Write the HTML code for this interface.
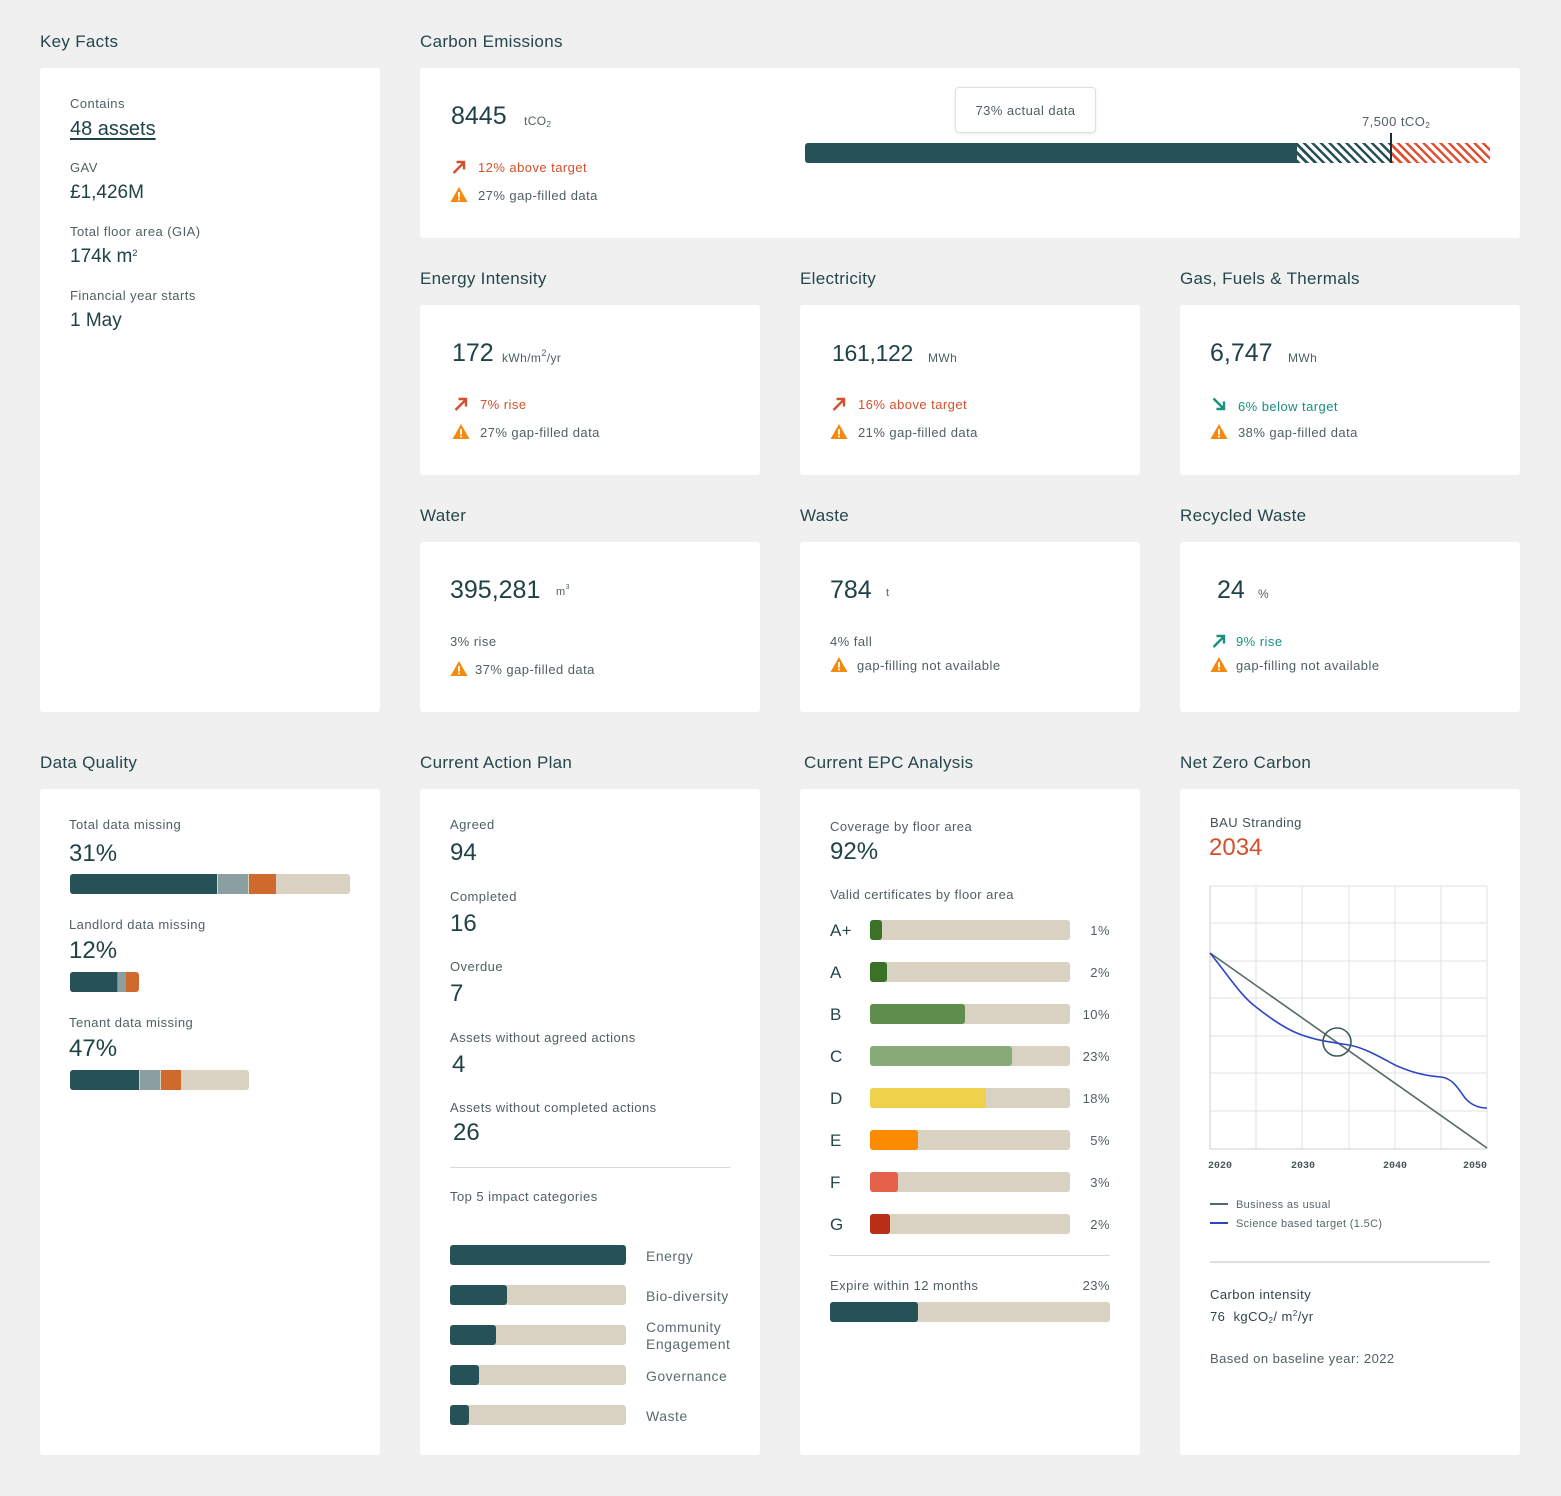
<!DOCTYPE html>
<html>
<head>
<meta charset="utf-8">
<style>
html,body{margin:0;padding:0}
body{width:1561px;height:1496px;background:#f0f0f0;position:relative;overflow:hidden;font-family:"Liberation Sans",Arial,sans-serif;color:#1f4247}
.c{position:absolute;background:#fff;border-radius:3px}
.t{position:absolute;line-height:1;white-space:nowrap;margin-top:1px}
.h{font-size:17px;color:#25474c;letter-spacing:0.3px}
.l{font-size:13px;color:#4f5f62;letter-spacing:0.45px}
.v{font-size:19px;color:#1f4247;margin-top:2px}
.b{font-size:25px;color:#1f4247;margin-top:2px}
.n{font-size:24px;color:#1f4247;margin-top:2px}
.u{font-size:12px;color:#4f5f62;letter-spacing:0.4px}
.cat{font-size:14px;color:#5a6b6e;letter-spacing:0.5px}
.red{color:#d4502c}
.teal{color:#17907f}
.r{position:absolute;border-radius:3px}
.ic{position:absolute}
sub{font-size:8px;vertical-align:-2px}
sup{font-size:9px;vertical-align:6px;line-height:0}
</style>
</head>
<body>

<!-- Titles -->
<div class="t h" style="left:40px;top:32px">Key Facts</div>
<div class="t h" style="left:420px;top:32px">Carbon Emissions</div>
<div class="t h" style="left:420px;top:269px">Energy Intensity</div>
<div class="t h" style="left:800px;top:269px">Electricity</div>
<div class="t h" style="left:1180px;top:269px">Gas, Fuels &amp; Thermals</div>
<div class="t h" style="left:420px;top:506px">Water</div>
<div class="t h" style="left:800px;top:506px">Waste</div>
<div class="t h" style="left:1180px;top:506px">Recycled Waste</div>
<div class="t h" style="left:40px;top:753px">Data Quality</div>
<div class="t h" style="left:420px;top:753px">Current Action Plan</div>
<div class="t h" style="left:804px;top:753px">Current EPC Analysis</div>
<div class="t h" style="left:1180px;top:753px">Net Zero Carbon</div>

<!-- Cards -->
<div class="c" style="left:40px;top:68px;width:340px;height:644px"></div>
<div class="c" style="left:420px;top:68px;width:1100px;height:170px"></div>
<div class="c" style="left:420px;top:305px;width:340px;height:170px"></div>
<div class="c" style="left:800px;top:305px;width:340px;height:170px"></div>
<div class="c" style="left:1180px;top:305px;width:340px;height:170px"></div>
<div class="c" style="left:420px;top:542px;width:340px;height:170px"></div>
<div class="c" style="left:800px;top:542px;width:340px;height:170px"></div>
<div class="c" style="left:1180px;top:542px;width:340px;height:170px"></div>
<div class="c" style="left:40px;top:789px;width:340px;height:666px"></div>
<div class="c" style="left:420px;top:789px;width:340px;height:666px"></div>
<div class="c" style="left:800px;top:789px;width:340px;height:666px"></div>
<div class="c" style="left:1180px;top:789px;width:340px;height:666px"></div>

<!-- Key facts -->
<div class="t l" style="left:70px;top:96px">Contains</div>
<div class="t v" style="left:70px;top:117px;font-size:20px;text-decoration:underline;text-underline-offset:3px">48 assets</div>
<div class="t l" style="left:70px;top:160px">GAV</div>
<div class="t v" style="left:70px;top:181px">£1,426M</div>
<div class="t l" style="left:70px;top:224px">Total floor area (GIA)</div>
<div class="t v" style="left:70px;top:245px">174k m<sup>2</sup></div>
<div class="t l" style="left:70px;top:288px">Financial year starts</div>
<div class="t v" style="left:70px;top:309px">1 May</div>

<!-- Carbon emissions -->
<div class="t b" style="left:451px;top:102px">8445</div>
<div class="t u" style="left:524px;top:114px">tCO<sub>2</sub></div>
<svg class="ic" style="left:451px;top:159px" width="16" height="16" viewBox="0 0 16 16"><path d="M2.5 14 L13 3.5 M5.5 3 H13 V10.5" fill="none" stroke="#d4502c" stroke-width="2.4"/></svg>
<div class="t l red" style="left:478px;top:160px">12% above target</div>
<svg class="ic" style="left:450px;top:186px" width="18" height="17" viewBox="0 0 18 17"><polygon points="9,1 17.5,16 0.5,16" fill="#f28a10"/><rect x="8.1" y="6" width="1.8" height="5.5" fill="#fff"/><rect x="8.1" y="12.6" width="1.8" height="1.8" fill="#fff"/></svg>
<div class="t l" style="left:478px;top:188px">27% gap-filled data</div>

<div style="position:absolute;left:955px;top:87px;width:139px;height:44px;border:1px solid #dde0e0;border-radius:4px;background:#fff;box-shadow:0 1px 3px rgba(0,0,0,0.08)"></div>
<div class="t l" style="left:955px;top:103px;width:141px;text-align:center">73% actual data</div>
<div class="t l" style="left:1362px;top:114px">7,500 tCO<sub>2</sub></div>
<div class="r" style="left:805px;top:143px;width:492px;height:20px;background:#265157;border-radius:3px 0 0 3px"></div>
<div style="position:absolute;left:1297px;top:143px;width:94px;height:20px;background:repeating-linear-gradient(45deg,#265157 0 2.5px,#fff 2.5px 6px)"></div>
<div style="position:absolute;left:1391px;top:143px;width:99px;height:20px;background:repeating-linear-gradient(45deg,#e0522f 0 2.5px,#fff 2.5px 6px)"></div>
<div style="position:absolute;left:1390px;top:133px;width:2px;height:30px;background:#1b2d33"></div>

<!-- Energy intensity -->
<div class="t b" style="left:452px;top:339px">172</div>
<div class="t u" style="left:502px;top:351px">kWh/m<sup>2</sup>/yr</div>
<svg class="ic" style="left:453px;top:396px" width="16" height="16" viewBox="0 0 16 16"><path d="M2.5 14 L13 3.5 M5.5 3 H13 V10.5" fill="none" stroke="#d4502c" stroke-width="2.4"/></svg>
<div class="t l red" style="left:480px;top:397px">7% rise</div>
<svg class="ic" style="left:452px;top:423px" width="18" height="17" viewBox="0 0 18 17"><polygon points="9,1 17.5,16 0.5,16" fill="#f28a10"/><rect x="8.1" y="6" width="1.8" height="5.5" fill="#fff"/><rect x="8.1" y="12.6" width="1.8" height="1.8" fill="#fff"/></svg>
<div class="t l" style="left:480px;top:425px">27% gap-filled data</div>

<!-- Electricity -->
<div class="t b" style="left:832px;top:340px;font-size:23px;letter-spacing:-0.3px">161,122</div>
<div class="t u" style="left:928px;top:351px">MWh</div>
<svg class="ic" style="left:831px;top:396px" width="16" height="16" viewBox="0 0 16 16"><path d="M2.5 14 L13 3.5 M5.5 3 H13 V10.5" fill="none" stroke="#d4502c" stroke-width="2.4"/></svg>
<div class="t l red" style="left:858px;top:397px">16% above target</div>
<svg class="ic" style="left:830px;top:423px" width="18" height="17" viewBox="0 0 18 17"><polygon points="9,1 17.5,16 0.5,16" fill="#f28a10"/><rect x="8.1" y="6" width="1.8" height="5.5" fill="#fff"/><rect x="8.1" y="12.6" width="1.8" height="1.8" fill="#fff"/></svg>
<div class="t l" style="left:858px;top:425px">21% gap-filled data</div>

<!-- Gas -->
<div class="t b" style="left:1210px;top:339px">6,747</div>
<div class="t u" style="left:1288px;top:351px">MWh</div>
<svg class="ic" style="left:1211px;top:396px" width="16" height="16" viewBox="0 0 16 16"><path d="M2.5 2.5 L13 13 M13 5.5 V13 H5.5" fill="none" stroke="#17907f" stroke-width="2.4"/></svg>
<div class="t l teal" style="left:1238px;top:399px">6% below target</div>
<svg class="ic" style="left:1210px;top:423px" width="18" height="17" viewBox="0 0 18 17"><polygon points="9,1 17.5,16 0.5,16" fill="#f28a10"/><rect x="8.1" y="6" width="1.8" height="5.5" fill="#fff"/><rect x="8.1" y="12.6" width="1.8" height="1.8" fill="#fff"/></svg>
<div class="t l" style="left:1238px;top:425px">38% gap-filled data</div>

<!-- Water -->
<div class="t b" style="left:450px;top:576px">395,281</div>
<div class="t u" style="left:556px;top:586px;font-size:11px">m<sup style="font-size:7px">3</sup></div>
<div class="t l" style="left:450px;top:634px">3% rise</div>
<svg class="ic" style="left:450px;top:660px" width="18" height="17" viewBox="0 0 18 17"><polygon points="9,1 17.5,16 0.5,16" fill="#f28a10"/><rect x="8.1" y="6" width="1.8" height="5.5" fill="#fff"/><rect x="8.1" y="12.6" width="1.8" height="1.8" fill="#fff"/></svg>
<div class="t l" style="left:475px;top:662px">37% gap-filled data</div>

<!-- Waste -->
<div class="t b" style="left:830px;top:576px">784</div>
<div class="t u" style="left:886px;top:587px;font-size:11px">t</div>
<div class="t l" style="left:830px;top:634px">4% fall</div>
<svg class="ic" style="left:830px;top:656px" width="18" height="17" viewBox="0 0 18 17"><polygon points="9,1 17.5,16 0.5,16" fill="#f28a10"/><rect x="8.1" y="6" width="1.8" height="5.5" fill="#fff"/><rect x="8.1" y="12.6" width="1.8" height="1.8" fill="#fff"/></svg>
<div class="t l" style="left:857px;top:658px">gap-filling not available</div>

<!-- Recycled -->
<div class="t b" style="left:1217px;top:576px">24</div>
<div class="t u" style="left:1258px;top:587px">%</div>
<svg class="ic" style="left:1211px;top:633px" width="16" height="16" viewBox="0 0 16 16"><path d="M2.5 14 L13 3.5 M5.5 3 H13 V10.5" fill="none" stroke="#17907f" stroke-width="2.4"/></svg>
<div class="t l teal" style="left:1236px;top:634px">9% rise</div>
<svg class="ic" style="left:1210px;top:656px" width="18" height="17" viewBox="0 0 18 17"><polygon points="9,1 17.5,16 0.5,16" fill="#f28a10"/><rect x="8.1" y="6" width="1.8" height="5.5" fill="#fff"/><rect x="8.1" y="12.6" width="1.8" height="1.8" fill="#fff"/></svg>
<div class="t l" style="left:1236px;top:658px">gap-filling not available</div>

<!-- Data Quality -->
<div class="t l" style="left:69px;top:817px">Total data missing</div>
<div class="t n" style="left:69px;top:840px">31%</div>
<div class="r" style="left:70px;top:874px;width:280px;height:20px;background:#d9d2c2"></div>
<div class="r" style="left:70px;top:874px;width:147px;height:20px;background:#265157;border-radius:3px 0 0 3px"></div>
<div style="position:absolute;left:218px;top:874px;width:30px;height:20px;background:#8b9fa1"></div>
<div style="position:absolute;left:249px;top:874px;width:27px;height:20px;background:#d06a2c"></div>

<div class="t l" style="left:69px;top:917px">Landlord data missing</div>
<div class="t n" style="left:69px;top:937px">12%</div>
<div class="r" style="left:70px;top:972px;width:69px;height:20px;background:#d06a2c"></div>
<div class="r" style="left:70px;top:972px;width:47px;height:20px;background:#265157;border-radius:3px 0 0 3px"></div>
<div style="position:absolute;left:118px;top:972px;width:8px;height:20px;background:#8b9fa1"></div>

<div class="t l" style="left:69px;top:1015px">Tenant data missing</div>
<div class="t n" style="left:69px;top:1035px">47%</div>
<div class="r" style="left:70px;top:1070px;width:179px;height:20px;background:#d9d2c2"></div>
<div class="r" style="left:70px;top:1070px;width:69px;height:20px;background:#265157;border-radius:3px 0 0 3px"></div>
<div style="position:absolute;left:140px;top:1070px;width:20px;height:20px;background:#8b9fa1"></div>
<div style="position:absolute;left:161px;top:1070px;width:20px;height:20px;background:#d06a2c"></div>

<!-- Action plan -->
<div class="t l" style="left:450px;top:817px">Agreed</div>
<div class="t n" style="left:450px;top:839px">94</div>
<div class="t l" style="left:450px;top:889px">Completed</div>
<div class="t n" style="left:450px;top:910px">16</div>
<div class="t l" style="left:450px;top:959px">Overdue</div>
<div class="t n" style="left:450px;top:980px">7</div>
<div class="t l" style="left:450px;top:1030px">Assets without agreed actions</div>
<div class="t n" style="left:452px;top:1051px">4</div>
<div class="t l" style="left:450px;top:1100px">Assets without completed actions</div>
<div class="t n" style="left:453px;top:1119px">26</div>
<div style="position:absolute;left:450px;top:1167px;width:280px;height:1px;background:#d5dadb"></div>
<div class="t l" style="left:450px;top:1189px">Top 5 impact categories</div>

<div class="r" style="left:450px;top:1245px;width:176px;height:20px;background:#265157"></div>
<div class="r" style="left:450px;top:1285px;width:176px;height:20px;background:#d9d2c2"></div>
<div class="r" style="left:450px;top:1285px;width:57px;height:20px;background:#265157"></div>
<div class="r" style="left:450px;top:1325px;width:176px;height:20px;background:#d9d2c2"></div>
<div class="r" style="left:450px;top:1325px;width:46px;height:20px;background:#265157"></div>
<div class="r" style="left:450px;top:1365px;width:176px;height:20px;background:#d9d2c2"></div>
<div class="r" style="left:450px;top:1365px;width:29px;height:20px;background:#265157"></div>
<div class="r" style="left:450px;top:1405px;width:176px;height:20px;background:#d9d2c2"></div>
<div class="r" style="left:450px;top:1405px;width:19px;height:20px;background:#265157"></div>
<div class="t cat" style="left:646px;top:1248px">Energy</div>
<div class="t cat" style="left:646px;top:1288px">Bio-diversity</div>
<div class="t cat" style="left:646px;top:1319px">Community</div>
<div class="t cat" style="left:646px;top:1336px">Engagement</div>
<div class="t cat" style="left:646px;top:1368px">Governance</div>
<div class="t cat" style="left:646px;top:1408px">Waste</div>

<!-- EPC -->
<div class="t l" style="left:830px;top:819px">Coverage by floor area</div>
<div class="t n" style="left:830px;top:838px">92%</div>
<div class="t l" style="left:830px;top:887px">Valid certificates by floor area</div>

<div class="t h" style="left:830px;top:921px">A+</div>
<div class="r" style="left:870px;top:920px;width:200px;height:20px;background:#d9d2c2"></div>
<div class="r" style="left:870px;top:920px;width:12px;height:20px;background:#3a7228"></div>
<div class="t l" style="left:1050px;top:923px;width:60px;text-align:right">1%</div>

<div class="t h" style="left:830px;top:963px">A</div>
<div class="r" style="left:870px;top:962px;width:200px;height:20px;background:#d9d2c2"></div>
<div class="r" style="left:870px;top:962px;width:17px;height:20px;background:#3a7228"></div>
<div class="t l" style="left:1050px;top:965px;width:60px;text-align:right">2%</div>

<div class="t h" style="left:830px;top:1005px">B</div>
<div class="r" style="left:870px;top:1004px;width:200px;height:20px;background:#d9d2c2"></div>
<div class="r" style="left:870px;top:1004px;width:95px;height:20px;background:#5e8d4e"></div>
<div class="t l" style="left:1050px;top:1007px;width:60px;text-align:right">10%</div>

<div class="t h" style="left:830px;top:1047px">C</div>
<div class="r" style="left:870px;top:1046px;width:200px;height:20px;background:#d9d2c2"></div>
<div class="r" style="left:870px;top:1046px;width:142px;height:20px;background:#87aa79"></div>
<div class="t l" style="left:1050px;top:1049px;width:60px;text-align:right">23%</div>

<div class="t h" style="left:830px;top:1089px">D</div>
<div class="r" style="left:870px;top:1088px;width:200px;height:20px;background:#d9d2c2"></div>
<div class="r" style="left:870px;top:1088px;width:116px;height:20px;background:#f0d14c"></div>
<div class="t l" style="left:1050px;top:1091px;width:60px;text-align:right">18%</div>

<div class="t h" style="left:830px;top:1131px">E</div>
<div class="r" style="left:870px;top:1130px;width:200px;height:20px;background:#d9d2c2"></div>
<div class="r" style="left:870px;top:1130px;width:48px;height:20px;background:#fd8b00"></div>
<div class="t l" style="left:1050px;top:1133px;width:60px;text-align:right">5%</div>

<div class="t h" style="left:830px;top:1173px">F</div>
<div class="r" style="left:870px;top:1172px;width:200px;height:20px;background:#d9d2c2"></div>
<div class="r" style="left:870px;top:1172px;width:28px;height:20px;background:#e5614a"></div>
<div class="t l" style="left:1050px;top:1175px;width:60px;text-align:right">3%</div>

<div class="t h" style="left:830px;top:1215px">G</div>
<div class="r" style="left:870px;top:1214px;width:200px;height:20px;background:#d9d2c2"></div>
<div class="r" style="left:870px;top:1214px;width:20px;height:20px;background:#b82e17"></div>
<div class="t l" style="left:1050px;top:1217px;width:60px;text-align:right">2%</div>

<div style="position:absolute;left:830px;top:1255px;width:280px;height:1px;background:#d5dadb"></div>
<div class="t l" style="left:830px;top:1278px">Expire within 12 months</div>
<div class="t l" style="left:1050px;top:1278px;width:60px;text-align:right">23%</div>
<div class="r" style="left:830px;top:1302px;width:280px;height:20px;background:#d9d2c2"></div>
<div class="r" style="left:830px;top:1302px;width:88px;height:20px;background:#265157"></div>

<!-- Net zero -->
<div class="t l" style="left:1210px;top:815px;color:#3f5155">BAU Stranding</div>
<div class="t n red" style="left:1209px;top:834px">2034</div>

<svg style="position:absolute;left:0;top:0" width="1561" height="1496" viewBox="0 0 1561 1496">
  <g stroke="#dfe3e3" stroke-width="1" fill="none">
    <line x1="1210" y1="886" x2="1487" y2="886"/>
    <line x1="1210" y1="923" x2="1487" y2="923"/>
    <line x1="1210" y1="961" x2="1487" y2="961"/>
    <line x1="1210" y1="998" x2="1487" y2="998"/>
    <line x1="1210" y1="1036" x2="1487" y2="1036"/>
    <line x1="1210" y1="1073" x2="1487" y2="1073"/>
    <line x1="1210" y1="1111" x2="1487" y2="1111"/>
    <line x1="1256" y1="886" x2="1256" y2="1149"/>
    <line x1="1302" y1="886" x2="1302" y2="1149"/>
    <line x1="1349" y1="886" x2="1349" y2="1149"/>
    <line x1="1395" y1="886" x2="1395" y2="1149"/>
    <line x1="1441" y1="886" x2="1441" y2="1149"/>
    <line x1="1487" y1="886" x2="1487" y2="1149"/>
  </g>
  <line x1="1210" y1="886" x2="1210" y2="1149" stroke="#cdd2d2" stroke-width="1"/>
  <line x1="1210" y1="1149" x2="1487" y2="1149" stroke="#cdd2d2" stroke-width="1"/>
  <line x1="1210" y1="953" x2="1487" y2="1148" stroke="#56696a" stroke-width="1.6"/>
  <path d="M1210,953 C1228,975 1240,995 1256,1007 C1275,1022 1290,1031 1302,1035 C1315,1040 1330,1042 1349,1045 C1365,1048 1380,1057 1395,1065 C1410,1072 1425,1076 1441,1077 C1452,1078 1458,1088 1465,1098 C1472,1106 1480,1108 1487,1108" fill="none" stroke="#2b45c6" stroke-width="1.6"/>
  <circle cx="1337" cy="1042" r="14" fill="none" stroke="#3f5a5e" stroke-width="1.6"/>
  <g font-family="Liberation Mono, monospace" font-size="10" font-weight="bold" fill="#4a5558">
    <text x="1208" y="1168">2020</text>
    <text x="1291" y="1168">2030</text>
    <text x="1383" y="1168">2040</text>
    <text x="1463" y="1168">2050</text>
  </g>
  <line x1="1210" y1="1204" x2="1228" y2="1204" stroke="#56696a" stroke-width="2"/>
  <line x1="1210" y1="1223" x2="1228" y2="1223" stroke="#2b45c6" stroke-width="2"/>
  <line x1="1210" y1="1262" x2="1490" y2="1262" stroke="#b9c2c4" stroke-width="1"/>
</svg>

<div class="t" style="left:1236px;top:1199px;font-size:11px;color:#56666a;letter-spacing:0.35px">Business as usual</div>
<div class="t" style="left:1236px;top:1218px;font-size:11px;color:#56666a;letter-spacing:0.35px">Science based target (1.5C)</div>

<div class="t l" style="left:1210px;top:1287px;color:#2f4448">Carbon intensity</div>
<div class="t l" style="left:1210px;top:1309px;color:#2f4448">76&nbsp; kgCO<sub>2</sub>/ m<sup style="font-size:8px;vertical-align:5px">2</sup>/yr</div>
<div class="t l" style="left:1210px;top:1351px">Based on baseline year: 2022</div>

</body>
</html>
